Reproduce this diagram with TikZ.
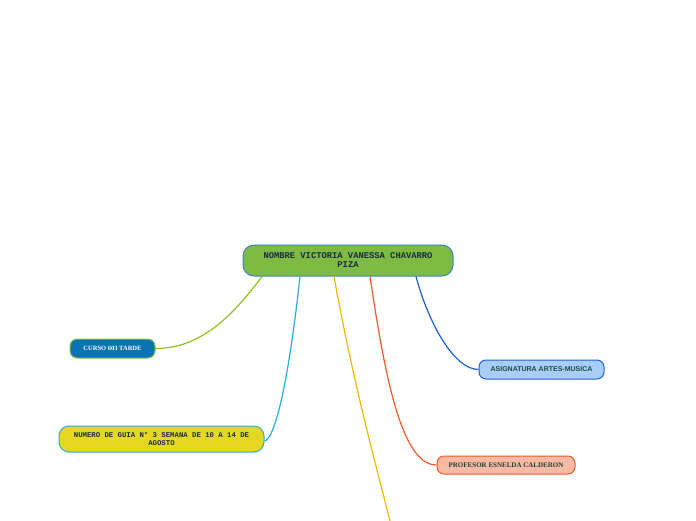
\documentclass[tikz,border=0pt]{standalone}
\usepackage{fontspec}
\setmainfont{Liberation Serif}
\newfontfamily\monof{Liberation Mono}
\newfontfamily\sansf{Liberation Sans}
\begin{document}
\begin{tikzpicture}[x=1pt,y=-1pt,
  box/.style={draw, line width=1pt, rounded corners=8pt, align=center, inner sep=0pt},
  conn/.style={line width=1.2pt}]
\definecolor{mainfill}{HTML}{7DBB42}
\definecolor{mainborder}{HTML}{3A82D0}
\definecolor{maintext}{HTML}{1A2A40}
\definecolor{cursofill}{HTML}{0A73B6}
\definecolor{cursoborder}{HTML}{8BC34A}
\definecolor{guiafill}{HTML}{E6D81E}
\definecolor{guiaborder}{HTML}{29ABE2}
\definecolor{asigfill}{HTML}{A8CDF9}
\definecolor{asigborder}{HTML}{1E63D6}
\definecolor{asigtext}{HTML}{1B4A40}
\definecolor{proffill}{HTML}{F8B9A5}
\definecolor{profborder}{HTML}{F05A28}
\definecolor{proftext}{HTML}{1E4030}
\definecolor{cgreen}{HTML}{8DC21F}
\definecolor{cltblue}{HTML}{29ABE2}
\definecolor{cyellow}{HTML}{F5B800}
\definecolor{cred}{HTML}{F05A28}
\definecolor{cblue}{HTML}{1E5FD6}
\useasboundingbox (0,0) rectangle (696,520);

\node[box, fill=mainfill, draw=mainborder, rounded corners=11pt, minimum width=210pt, minimum height=31pt, text=maintext, font=\monof\bfseries\fontsize{8.8}{9}\selectfont] (main) at (348,260.5) {NOMBRE VICTORIA VANESSA CHAVARRO\\PIZA};

\node[box, fill=cursofill, draw=cursoborder, rounded corners=7pt, minimum width=85pt, minimum height=19pt, text=white, font=\bfseries\fontsize{6.5}{7}\selectfont] (curso) at (112.5,348.5) {CURSO 603 TARDE};

\node[box, fill=guiafill, draw=guiaborder, rounded corners=10pt, minimum width=205pt, minimum height=26pt, text=maintext, font=\monof\bfseries\fontsize{7.3}{8}\selectfont] (guia) at (161.5,439) {NUMERO DE GUIA N° 3 SEMANA DE 10 A 14 DE\\AGOSTO};

\node[box, fill=asigfill, draw=asigborder, rounded corners=7pt, minimum width=125pt, minimum height=19pt, text=asigtext, font=\sansf\bfseries\fontsize{7}{8}\selectfont] (asig) at (541.5,369.5) {ASIGNATURA ARTES-MUSICA};

\node[box, fill=proffill, draw=profborder, rounded corners=7pt, minimum width=138pt, minimum height=18pt, text=proftext, font=\bfseries\fontsize{7}{8}\selectfont] (prof) at (506,465) {PROFESOR ESNELDA CALDERON};

\coordinate (yend) at (390,521);

\draw[conn, cgreen] ([xshift=-86pt]main.south) .. controls +(-30,40) and +(45,0) .. (curso.east);
\draw[conn, cltblue] ([xshift=-48pt]main.south) .. controls +(-12,110) and +(10,-2) .. ([yshift=-2pt]guia.east);
\draw[conn, cyellow] ([xshift=-14pt]main.south) .. controls +(20,110) and +(-15,-60) .. (yend);
\draw[conn, cred] ([xshift=22pt]main.south) .. controls +(15,100) and +(-35,0) .. (prof.west);
\draw[conn, cblue] ([xshift=68pt]main.south) .. controls +(12,45) and +(-25,0) .. (asig.west);
\end{tikzpicture}
\end{document}
